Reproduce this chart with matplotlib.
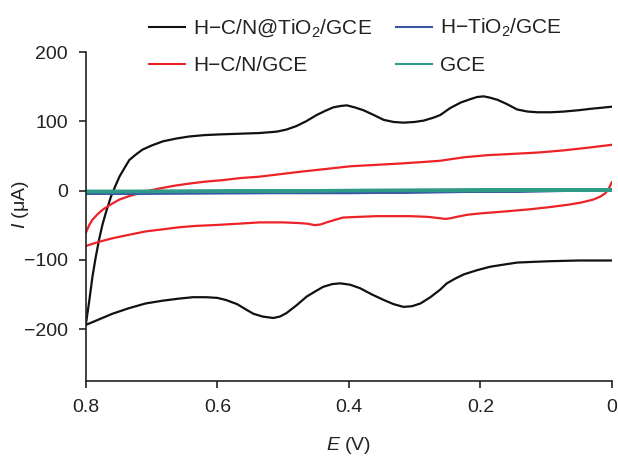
import matplotlib
matplotlib.use("Agg")
import matplotlib.pyplot as plt

plt.rcParams['font.family'] = ['Liberation Sans', 'DejaVu Sans']
plt.rcParams['mathtext.fontset'] = 'custom'
plt.rcParams['mathtext.rm'] = 'Liberation Sans'
plt.rcParams['mathtext.it'] = 'Liberation Sans:italic'

# ---- data (E in V, I in uA) ----
hcn_tio2_fwd_E = [0.800, 0.795, 0.790, 0.785, 0.780, 0.775, 0.770, 0.762, 0.755, 0.749, 0.741, 0.734,
                  0.724, 0.714, 0.700, 0.683, 0.663, 0.643, 0.620, 0.597, 0.567, 0.536, 0.510, 0.495,
                  0.480, 0.465, 0.449, 0.436, 0.424, 0.413, 0.403, 0.391, 0.378, 0.362, 0.347, 0.332,
                  0.317, 0.300, 0.286, 0.272, 0.261, 0.246, 0.230, 0.215, 0.205, 0.195, 0.185, 0.174,
                  0.160, 0.144, 0.128, 0.113, 0.093, 0.073, 0.050, 0.032, 0.000]
hcn_tio2_fwd_I = [-193, -160, -124, -96, -71, -50, -33, -9, 7, 20, 33, 44,
                  52, 59, 65, 71, 75, 78, 80, 81, 82, 83, 85, 88,
                  93, 100, 109, 115, 120, 122, 123, 120, 116, 109, 102, 99,
                  98, 99, 101, 105, 109, 119, 127, 132, 135, 136, 134, 131,
                  125, 117, 114, 113, 113, 114, 116, 118, 121]
hcn_tio2_rev_E = [0.800, 0.780, 0.760, 0.735, 0.709, 0.683, 0.658, 0.637, 0.617, 0.600, 0.587, 0.570,
                  0.556, 0.545, 0.531, 0.515, 0.505, 0.495, 0.480, 0.464, 0.450, 0.439, 0.425, 0.413,
                  0.398, 0.383, 0.365, 0.347, 0.332, 0.317, 0.304, 0.291, 0.276, 0.261, 0.251, 0.238,
                  0.225, 0.205, 0.185, 0.165, 0.144, 0.120, 0.093, 0.050, 0.000]
hcn_tio2_rev_I = [-194, -186, -178, -170, -163, -159, -156, -154, -154, -155, -158, -164,
                  -172, -178, -182, -184, -182, -177, -166, -153, -145, -139, -135, -134,
                  -136, -141, -150, -158, -164, -168, -167, -163, -154, -143, -134, -127,
                  -121, -115, -110, -107, -104, -103, -102, -101, -101]

hcn_fwd_E = [0.800, 0.795, 0.790, 0.782, 0.775, 0.762, 0.749, 0.734, 0.719, 0.703, 0.688, 0.665,
             0.643, 0.617, 0.592, 0.565, 0.536, 0.510, 0.475, 0.436, 0.398, 0.360, 0.322, 0.290,
             0.261, 0.225, 0.190, 0.149, 0.110, 0.073, 0.035, 0.000]
hcn_fwd_I = [-61, -50, -42, -34, -28, -20, -13, -8, -4, 0, 3, 7,
             10, 13, 15, 18, 20, 23, 27, 31, 35, 37, 39, 41,
             43, 48, 51, 53, 55, 58, 62, 66]
hcn_rev_E = [0.800, 0.780, 0.760, 0.735, 0.709, 0.683, 0.658, 0.632, 0.607, 0.570, 0.536, 0.500,
             0.475, 0.462, 0.452, 0.443, 0.434, 0.420, 0.409, 0.385, 0.358, 0.330, 0.307, 0.280,
             0.261, 0.253, 0.245, 0.236, 0.220, 0.200, 0.160, 0.124, 0.095, 0.063, 0.045, 0.028,
             0.018, 0.010, 0.005, 0.000]
hcn_rev_I = [-80, -74, -69, -64, -59, -56, -53, -51, -50, -48, -46, -46,
             -47, -48, -50, -49, -46, -42, -39, -38, -37, -37, -37, -38,
             -40, -41, -40, -38, -35, -33, -30, -27, -24, -20, -17, -13,
             -9, -4, 2, 12]

htio2_E = [0.80, 0.60, 0.40, 0.20, 0.00, 0.20, 0.40, 0.60, 0.80]
htio2_I = [-4, -4, -3, -2, 0, -2, -4, -4, -5]

gce_E = [0.80, 0.60, 0.40, 0.20, 0.00, 0.20, 0.40, 0.60, 0.80]
gce_I = [-1, -1, 0, 1, 1, 0, 0, -1, -2]

labels = ["H\u2212C/N@TiO$_2$/GCE", "H\u2212C/N/GCE", "H\u2212TiO$_2$/GCE", "GCE"]
colors = {"hcn_tio2": "#111111", "htio2": "#3a56a5", "hcn": "#ec2227", "gce": "#2f9a88"}

x_ticks = [0.8, 0.6, 0.4, 0.2, 0.0]
x_ticklabels = ["0.8", "0.6", "0.4", "0.2", "0"]
y_ticks = [200, 100, 0, -100, -200]
y_ticklabels = ["200", "100", "0", "\u2212100", "\u2212200"]

fig = plt.figure(figsize=(6.18, 4.61), dpi=100)
ax = fig.add_axes([0.139, 0.1735, 0.851, 0.7137])

lw = 1.6
h1, = ax.plot(hcn_tio2_fwd_E, hcn_tio2_fwd_I, color=colors["hcn_tio2"], lw=lw, solid_joinstyle="round")
ax.plot(hcn_tio2_rev_E, hcn_tio2_rev_I, color=colors["hcn_tio2"], lw=lw, solid_joinstyle="round")
h3, = ax.plot(hcn_fwd_E, hcn_fwd_I, color=colors["hcn"], lw=lw, solid_joinstyle="round")
ax.plot(hcn_rev_E, hcn_rev_I, color=colors["hcn"], lw=lw, solid_joinstyle="round")
h2, = ax.plot(htio2_E, htio2_I, color=colors["htio2"], lw=1.4)
h4, = ax.plot(gce_E, gce_I, color=colors["gce"], lw=2.4)

ax.set_xlim(0.8, 0.0)
ax.set_ylim(-275, 200)
ax.set_xticks(x_ticks)
ax.set_xticklabels(x_ticklabels)
ax.set_yticks(y_ticks)
ax.set_yticklabels(y_ticklabels)
for s in ["top", "right"]:
    ax.spines[s].set_visible(False)
for s in ["left", "bottom"]:
    ax.spines[s].set_linewidth(1.2)
    ax.spines[s].set_color("#222222")
ax.tick_params(direction="out", length=5, width=1.2, labelsize=14, colors="#222222", pad=8)

ax.set_xlabel("$\\it{E}$ (V)", fontsize=14, color="#222222")
ax.xaxis.set_label_coords(0.5, -0.165)
ax.set_ylabel("$\\it{I}$ (\u03bcA)", fontsize=14, color="#222222")
ax.yaxis.set_label_coords(-0.105, 0.535)

leg = fig.legend([h1, h3, h2, h4], labels, loc="upper left", bbox_to_anchor=(0.218, 0.995),
                 ncol=2, frameon=False, fontsize=15, handlelength=1.7, handletextpad=0.4,
                 columnspacing=1.15, labelspacing=0.8, borderaxespad=0.3)
for t in leg.get_texts():
    t.set_color("#222222")
for ln in leg.get_lines():
    ln.set_linewidth(1.5)

fig.savefig("out.png", dpi=100)
